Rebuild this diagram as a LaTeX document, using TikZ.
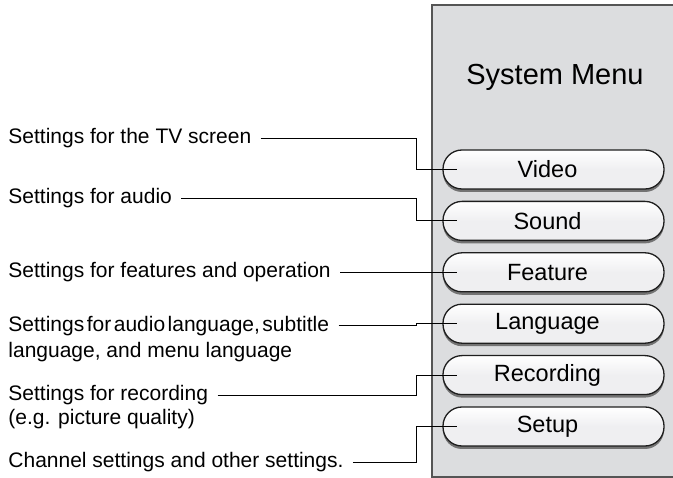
\documentclass[tikz,border=0pt]{standalone}
\usepackage{fontspec}
\setmainfont{Liberation Sans}
\usetikzlibrary{shadows}
\definecolor{panelgray}{RGB}{220,221,223}
\definecolor{panelline}{RGB}{85,85,85}
\definecolor{btnline}{RGB}{30,30,30}
\definecolor{btnfill}{RGB}{239,239,241}

\begin{document}
\begin{tikzpicture}[x=1pt,y=-1pt,line width=0.9pt,
  note/.style={anchor=west,inner sep=0pt,font=\fontsize{21}{25}\selectfont},
  menubtn/.style={draw=btnline,line width=1.3pt,rounded corners=19pt,
    top color=white,bottom color=btnfill,middle color=btnfill,
    minimum width=221pt,minimum height=39pt,inner sep=0pt,
    font=\fontsize{23.5}{28}\selectfont,
    execute at begin node=\hspace*{-12pt},
    drop shadow={shadow xshift=0pt,shadow yshift=-3pt,fill=black!55,opacity=1}}]
\useasboundingbox (0,0) rectangle (673,478);
\def\dy{51.4}
% ---- panel ----
\draw[draw=panelline,fill=panelgray,line width=1.5pt] (432,477) -- (432,5) -- (680,5) -- (680,477) -- cycle;
\node[anchor=base,inner sep=0pt,font=\fontsize{29}{34}\selectfont] (title) at (555,85) {System Menu};
% ---- menu buttons ----
\foreach \name/\txt [count=\i] in {video/Video,sound/Sound,feature/Feature,
    language/Language,recording/Recording,setup/Setup}{
  \node[menubtn] (\name) at (553.5,{169.5+(\i-1)*\dy}) {\txt};}
% ---- notes on the left ----
\node[note] (tv)    at (8,138)   {Settings for the TV screen};
\node[note] (audio) at (8,198)   {Settings for audio};
\node[note] (feat)  at (8,272.3) {Settings for features and operation};
\node[note] (lang1) at (8,325.7) {\spaceskip=0.12em Settings for audio language, subtitle};
\node[note] (lang2) at (8,352)   {language, and menu language};
\node[note] (rec1)  at (8,395)   {Settings for recording};
\node[note] (rec2)  at (8,419)   {(e.g. picture quality)};
\node[note] (chan)  at (8,462)   {Channel settings and other settings.};
% ---- connectors ----
\coordinate (bend) at (407,0);
\foreach \src/\dst in {tv/video,audio/sound,feat/feature,lang1/language,
    rec1/recording,chan/setup}{
  \draw ([xshift=9pt]\src.east) -- ([xshift=9pt]\src.east -| bend)
    |- ([xshift=15pt]\dst.west);}
\end{tikzpicture}
\end{document}
